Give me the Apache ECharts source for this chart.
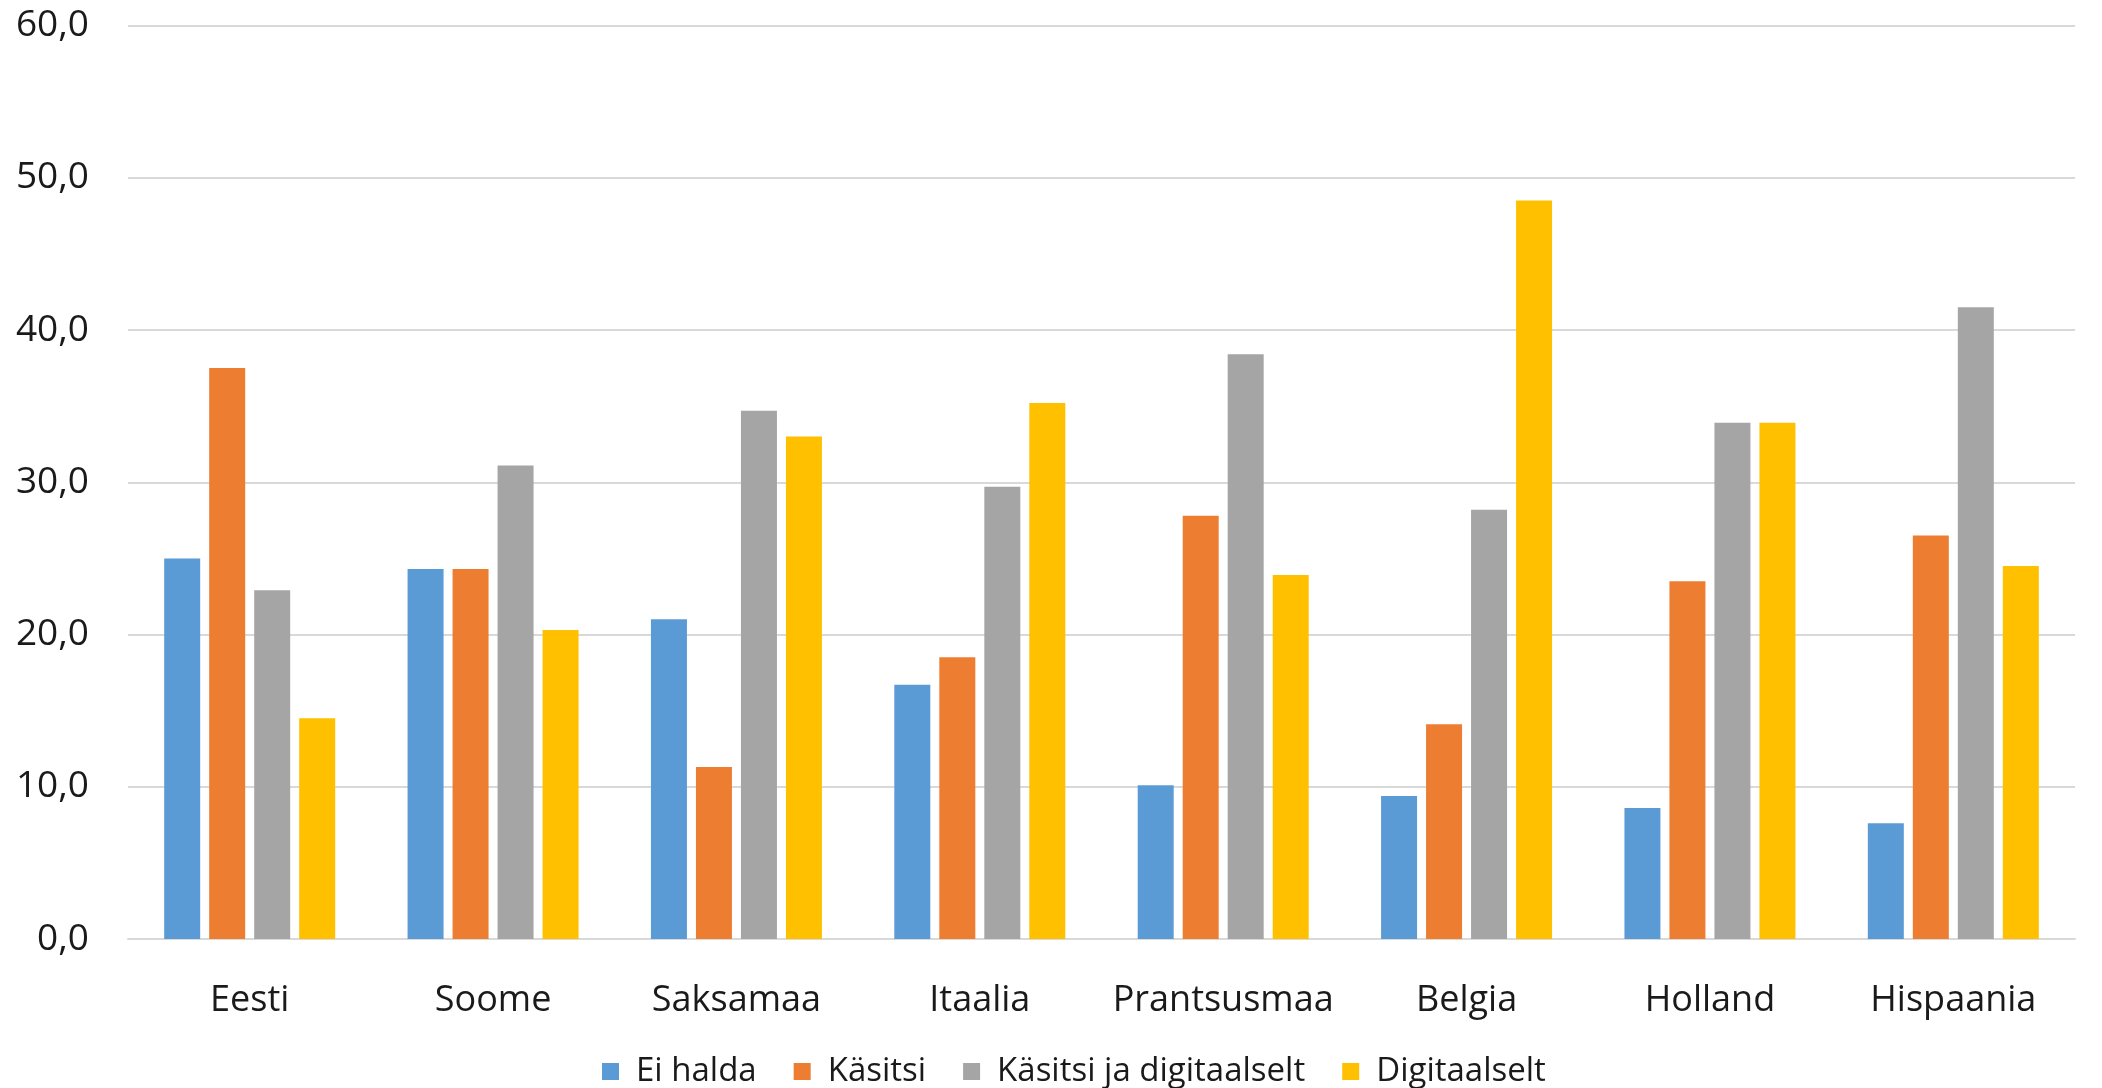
<!DOCTYPE html>
<html>
<head>
<meta charset="utf-8">
<script src="https://cdn.jsdelivr.net/npm/echarts@6/dist/echarts.min.js"></script>
<style>
html,body{margin:0;padding:0;background:#fff;}
#chart{width:2102px;height:1088px;}
</style>
</head>
<body>
<div id="chart"></div>
<script>
const categories = ['Eesti','Soome','Saksamaa','Itaalia','Prantsusmaa','Belgia','Holland','Hispaania'];
const seriesNames = ['Ei halda','Käsitsi','Käsitsi ja digitaalselt','Digitaalselt'];
const eiHalda = [25.0, 24.3, 21.0, 16.7, 10.1, 9.4, 8.6, 7.6];
const kasitsi = [37.5, 24.3, 11.3, 18.5, 27.8, 14.1, 23.5, 26.5];
const kasitsiJaDigi = [22.9, 31.1, 34.7, 29.7, 38.4, 28.2, 33.9, 41.5];
const digitaalselt = [14.5, 20.3, 33.0, 35.2, 23.9, 48.5, 33.9, 24.5];
const yTicks = [0, 10, 20, 30, 40, 50, 60];

const colors = ['#5B9BD5','#ED7D31','#A5A5A5','#FFC000'];
const dataSets = [eiHalda, kasitsi, kasitsiJaDigi, digitaalselt];
const font = '"Open Sans", "Noto Sans", sans-serif';

const chart = echarts.init(document.getElementById('chart'), null, {renderer:'canvas'});
chart.setOption({
  animation: false,
  color: colors,
  grid: {left: 128, right: 27, top: 25.5, bottom: 149, containLabel: false},
  legend: {
    data: seriesNames,
    left: 597,
    top: 1050,
    itemWidth: 17,
    itemHeight: 17,
    itemGap: 37,
    icon: 'rect',
    textStyle: {fontFamily: font, fontSize: 33, color: '#1a1a1a', padding: [0, 0, 0, 12]}
  },
  xAxis: {
    type: 'category',
    data: categories,
    axisLine: {show: true, lineStyle: {color: '#d9d9d9', width: 2}},
    axisTick: {show: false},
    axisLabel: {fontFamily: font, fontSize: 36, color: '#1a1a1a', margin: 44, interval: 0}
  },
  yAxis: {
    type: 'value',
    min: yTicks[0],
    max: yTicks[yTicks.length-1],
    interval: yTicks[1]-yTicks[0],
    axisLine: {show: false},
    axisTick: {show: false},
    splitLine: {lineStyle: {color: '#d9d9d9', width: 2}},
    axisLabel: {
      fontFamily: font, fontSize: 37, color: '#1a1a1a', margin: 39,
      formatter: v => v.toFixed(1).replace('.', ',')
    }
  },
  series: seriesNames.map((n, i) => ({
    name: n,
    type: 'bar',
    data: dataSets[i],
    barWidth: 36,
    barGap: '25%',
    itemStyle: {color: colors[i]}
  }))
});
</script>
</body>
</html>
